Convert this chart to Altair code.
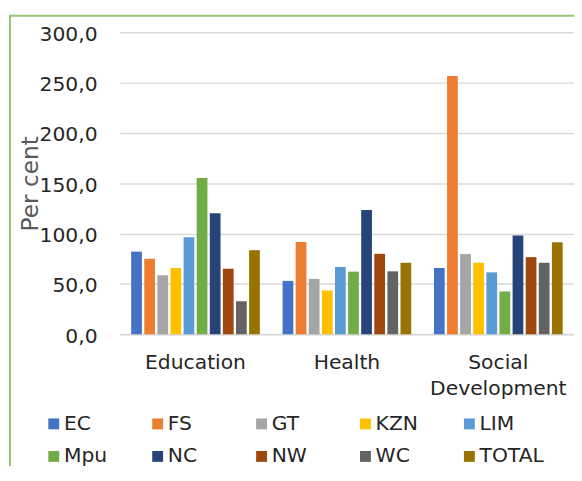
import altair as alt
import pandas as pd

categories = ["Education", "Health", "Social Development"]
regions = ["EC", "FS", "GT", "KZN", "LIM", "Mpu", "NC", "NW", "WC", "TOTAL"]
education = [82.1, 75.0, 58.6, 65.8, 96.3, 155.2, 120.1, 65.1, 32.7, 83.5]
health = [53.0, 91.6, 55.0, 43.5, 66.8, 62.2, 123.4, 79.9, 62.5, 71.0]
social = [65.8, 256.4, 79.6, 71.0, 61.5, 42.5, 98.2, 76.6, 71.0, 91.3]
colors = ["#4472C4", "#ED7D31", "#A5A5A5", "#FFC000", "#5B9BD5",
          "#70AD47", "#264478", "#9E480E", "#636363", "#997300"]
y_ticks = [0, 50, 100, 150, 200, 250, 300]

rows = []
for cat, vals in zip(categories, [education, health, social]):
    for reg, v in zip(regions, vals):
        rows.append({"category": cat, "region": reg, "value": v})
df = pd.DataFrame(rows)

FONT = "DejaVu Sans"
FS = 20.5

border = alt.Chart(pd.DataFrame({"a": [0]})).mark_rect(
    filled=False, stroke="#93C572", strokeWidth=2
).encode(
    x=alt.value(-111), x2=alt.value(700),
    y=alt.value(-16.7), y2=alt.value(600)
)

bars = alt.Chart(df).mark_bar().encode(
    x=alt.X("category:N", sort=categories, title=None,
            scale=alt.Scale(paddingInner=0.15, paddingOuter=0.075),
            axis=alt.Axis(labelAngle=0, labelFont=FONT, labelFontSize=FS,
                          labelColor="#262626", ticks=False, tickSize=0, grid=False,
                          labelPadding=19, labelLineHeight=26, domain=True,
                          domainColor="#D9D9D9", domainWidth=1.5,
                          labelExpr="datum.value == 'Social Development' ? ['Social', 'Development'] : datum.value")),
    xOffset=alt.XOffset("region:N", sort=regions,
                        scale=alt.Scale(paddingInner=0.18, paddingOuter=0)),
    y=alt.Y("value:Q", title="Per cent",
            scale=alt.Scale(domain=[0, 300], nice=False),
            axis=alt.Axis(values=y_ticks, domain=False, ticks=False, tickSize=0,
                          labelFont=FONT, labelFontSize=FS, labelColor="#262626",
                          labelPadding=23, labelBaseline="alphabetic", labelOffset=8,
                          labelExpr="replace(format(datum.value, '.1f'), '.', ',')",
                          gridColor="#D9D9D9", gridWidth=1.5,
                          titleFont=FONT, titleFontSize=23.5, titleColor="#595959",
                          titleFontWeight="normal", titleX=-83, titleY=152.7,
                          titleAlign="center", titleBaseline="alphabetic", titleAngle=270)),
    color=alt.Color("region:N", sort=regions,
                    scale=alt.Scale(domain=regions, range=colors),
                    legend=alt.Legend(title=None, orient="none", legendX=-77, legendY=385.5,
                                      direction="horizontal", columns=5,
                                      symbolType="square", symbolSize=121,
                                      symbolStrokeWidth=0, labelFont=FONT,
                                      labelFontSize=FS, labelColor="#262626",
                                      labelOffset=0, columnPadding=19, rowPadding=12,
                                      gridAlign="all", labelLimit=300, padding=0))
)

chart = alt.layer(border, bars).properties(
    width=459, height=305.3,
    autosize=alt.AutoSizeParams(type="none"),
    padding={"left": 113, "top": 22, "right": 0, "bottom": 131},
    view=alt.ViewBackground(stroke="transparent", strokeWidth=0)
).configure_view(stroke="transparent", strokeWidth=0).configure_axisY(
    domain=False
).configure(background="white")

chart.save("out.html", embed_options={"renderer": "svg", "actions": False})
